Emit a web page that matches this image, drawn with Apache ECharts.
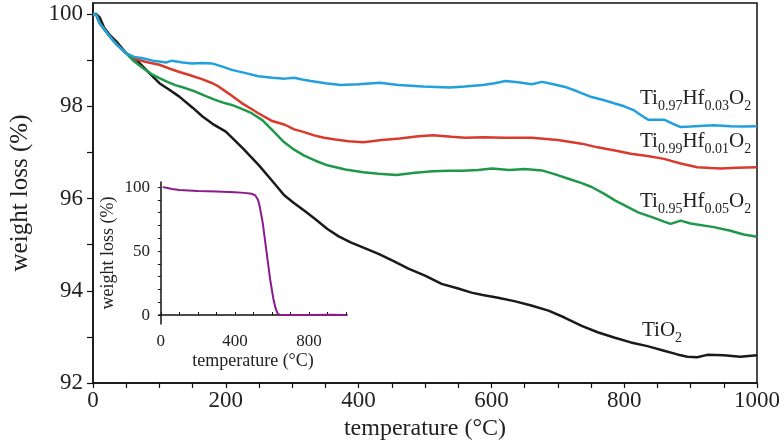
<!DOCTYPE html>
<html>
<head>
<meta charset="utf-8">
<script src="https://cdn.jsdelivr.net/npm/echarts@6/dist/echarts.min.js"></script>
<style>
html, body { margin: 0; padding: 0; background: #fff; }
#main { width: 784px; height: 446px; }
</style>
</head>
<body>
<div id="main"></div>
<script>
// TGA curves, [temperature °C, weight %]
var tio2 = [[0,100],[5,100],[10,99.93],[17,99.7],[25,99.55],[35,99.41],[50,99.15],[65,99.01],[80,98.79],[100,98.5],[115,98.36],[130,98.21],[150,97.97],[165,97.78],[180,97.62],[200,97.45],[225,97.1],[250,96.72],[270,96.38],[288,96.07],[303,95.9],[318,95.74],[335,95.55],[353,95.34],[370,95.18],[388,95.05],[410,94.92],[430,94.8],[452,94.65],[475,94.48],[500,94.33],[525,94.15],[550,94.05],[570,93.96],[587,93.91],[610,93.85],[636,93.77],[660,93.68],[686,93.57],[710,93.42],[736,93.24],[760,93.1],[786,92.98],[810,92.88],[835,92.8],[860,92.7],[880,92.62],[895,92.57],[910,92.56],[925,92.61],[950,92.6],[975,92.57],[1000,92.6]];
var hf003 = [[0,100],[5,99.98],[10,99.8],[18,99.65],[25,99.52],[35,99.35],[50,99.15],[62,99.07],[75,99.04],[90,98.99],[100,98.97],[110,98.95],[119,98.99],[135,98.95],[149,98.93],[165,98.94],[179,98.93],[195,98.86],[209,98.79],[230,98.72],[249,98.65],[270,98.62],[289,98.6],[303,98.62],[315,98.58],[328,98.55],[350,98.5],[373,98.46],[400,98.48],[432,98.51],[460,98.46],[497,98.43],[537,98.41],[560,98.43],[587,98.46],[605,98.5],[621,98.55],[640,98.52],[661,98.48],[676,98.53],[690,98.49],[711,98.42],[730,98.32],[751,98.2],[770,98.13],[786,98.06],[800,98.0],[815,97.91],[826,97.8],[836,97.71],[848,97.71],[860,97.71],[872,97.63],[885,97.55],[900,97.56],[920,97.58],[935,97.59],[960,97.57],[980,97.56],[1000,97.57]];
var hf001 = [[0,100],[5,99.98],[10,99.8],[18,99.65],[25,99.52],[35,99.35],[50,99.15],[65,99.02],[80,98.96],[100,98.9],[115,98.82],[129,98.75],[145,98.68],[164,98.59],[180,98.5],[189,98.43],[205,98.27],[224,98.07],[240,97.93],[249,97.85],[270,97.68],[289,97.6],[303,97.5],[318,97.44],[333,97.37],[348,97.32],[365,97.28],[385,97.24],[407,97.22],[435,97.27],[462,97.3],[490,97.35],[512,97.37],[540,97.34],[561,97.32],[587,97.33],[620,97.32],[661,97.32],[700,97.27],[736,97.19],[760,97.11],[786,97.04],[810,96.97],[835,96.92],[860,96.86],[885,96.76],[910,96.68],[930,96.66],[945,96.65],[970,96.67],[1000,96.68]];
var hf005 = [[0,100],[5,99.98],[10,99.8],[18,99.65],[25,99.52],[35,99.35],[50,99.15],[60,99.0],[75,98.83],[88,98.7],[100,98.61],[112,98.53],[124,98.46],[140,98.39],[154,98.32],[170,98.22],[184,98.14],[196,98.08],[209,98.03],[225,97.94],[239,97.85],[255,97.7],[269,97.5],[288,97.22],[303,97.06],[318,96.93],[335,96.82],[353,96.72],[380,96.63],[407,96.57],[430,96.54],[457,96.51],[485,96.56],[512,96.59],[535,96.6],[557,96.6],[580,96.62],[601,96.65],[627,96.62],[650,96.64],[676,96.61],[695,96.53],[716,96.43],[735,96.34],[751,96.25],[770,96.1],[786,95.96],[805,95.82],[821,95.7],[845,95.58],[860,95.5],[870,95.45],[885,95.52],[900,95.46],[935,95.38],[960,95.3],[980,95.22],[1000,95.17]];
// inset curve
var inset = [[10,100],[30,99.5],[60,98.6],[100,97.8],[200,97],[300,96.5],[400,96],[450,95.5],[490,94.8],[510,93.5],[525,90],[535,84],[550,72],[571,49],[590,28],[607,13],[620,5],[632,0.8],[645,0],[700,0],[800,0],[900,0.2],[1000,0]];

var mainYLabels = [92, 94, 96, 98, 100];
var mainYTicks = [92, 93, 94, 95, 96, 97, 98, 99, 100];
var insetXLabels = [0, 400, 800];
var insetXTicks = [0, 100, 200, 300, 400, 500, 600, 700, 800, 900, 1000];
var insetYLabels = [0, 50, 100];
var insetYTicks = [0, 10, 20, 30, 40, 50, 60, 70, 80, 90, 100];

var FONT = 'Liberation Serif';
var chart = echarts.init(document.getElementById('main'));

function richLabel(a, b) {
	return '{m|Ti}{s|' + a + '}{m|Hf}{s|' + b + '}{m|O}{s|2}';
}
// subscripts pushed down with top padding
var rich = {
	m: { fontFamily: FONT, fontSize: 21, lineHeight: 30, verticalAlign: 'top', fill: '#222' },
	s: { fontFamily: FONT, fontSize: 14, lineHeight: 30, verticalAlign: 'top', padding: [11, 0, 0, 0], fill: '#222' }
};
function plain(v) { return String(v); }

var option = {
	animation: false,
	backgroundColor: '#fff',
	textStyle: { fontFamily: FONT, color: '#222' },
	grid: [
		{ left: 87, right: 27, top: 3, bottom: 63, show: true, borderColor: '#111', borderWidth: 1.5 },
		{ left: 159, width: 188, top: 182, height: 142 }
	],
	xAxis: [{
		gridIndex: 0, type: 'value', min: 0, max: 1000, interval: 200,
		name: 'temperature (°C)', nameLocation: 'middle', nameGap: 31,
		nameTextStyle: { fontFamily: FONT, fontSize: 24, color: '#222' },
		axisLine: { lineStyle: { color: '#111', width: 1.5 } },
		axisTick: { length: 5, lineStyle: { color: '#111', width: 1.2 } },
		minorTick: { show: true, splitNumber: 4, length: 5, lineStyle: { color: '#111', width: 1.2 } },
		axisLabel: { fontFamily: FONT, fontSize: 23, color: '#222', margin: 6, formatter: plain },
		splitLine: { show: false }
	}, {
		gridIndex: 1, type: 'value', min: -10, max: 1005,
		name: 'temperature (°C)', nameLocation: 'middle', nameGap: 28,
		nameTextStyle: { fontFamily: FONT, fontSize: 18, color: '#222' },
		axisLine: { lineStyle: { color: '#111', width: 1.5 } },
		axisTick: { inside: true, length: 3, customValues: insetXTicks, lineStyle: { color: '#111' } },
		axisLabel: { fontFamily: FONT, fontSize: 17, color: '#222', margin: 9, customValues: insetXLabels, formatter: plain },
		splitLine: { show: false }
	}],
	yAxis: [{
		gridIndex: 0, type: 'value', min: 92, max: 100.24,
		name: 'weight loss (%)', nameLocation: 'middle', nameGap: 60,
		nameTextStyle: { fontFamily: FONT, fontSize: 25, color: '#222' },
		axisLine: { lineStyle: { color: '#111', width: 1.5 } },
		axisTick: { length: 6, customValues: mainYTicks, lineStyle: { color: '#111', width: 1.2 } },
		axisLabel: { fontFamily: FONT, fontSize: 23, color: '#222', margin: 10, customValues: mainYLabels },
		splitLine: { show: false }
	}, {
		gridIndex: 1, type: 'value', min: -7, max: 104,
		name: 'weight loss (%)', nameLocation: 'middle', nameGap: 42,
		nameTextStyle: { fontFamily: FONT, fontSize: 18, color: '#222' },
		axisLine: { lineStyle: { color: '#111', width: 1.5 } },
		axisTick: { length: 3, customValues: insetYTicks, lineStyle: { color: '#111' } },
		axisLabel: { fontFamily: FONT, fontSize: 17, color: '#222', margin: 9, customValues: insetYLabels },
		splitLine: { show: false }
	}],
	series: [
		{ name: 'TiO2', type: 'line', data: tio2, showSymbol: false, lineStyle: { color: '#1a1a1a', width: 2.5 } },
		{ name: 'Ti0.99Hf0.01O2', type: 'line', data: hf001, showSymbol: false, lineStyle: { color: '#da3a2c', width: 2.5 } },
		{ name: 'Ti0.95Hf0.05O2', type: 'line', data: hf005, showSymbol: false, lineStyle: { color: '#1f984a', width: 2.5 } },
		{ name: 'Ti0.97Hf0.03O2', type: 'line', data: hf003, showSymbol: false, lineStyle: { color: '#229fdd', width: 2.5 } },
		{ name: 'inset', type: 'line', xAxisIndex: 1, yAxisIndex: 1, data: inset, showSymbol: false, lineStyle: { color: '#8b1a8d', width: 2 } }
	],
	graphic: [
		{ type: 'text', left: 640, top: 88, style: { text: richLabel('0.97', '0.03'), rich: rich } },
		{ type: 'text', left: 640, top: 131, style: { text: richLabel('0.99', '0.01'), rich: rich } },
		{ type: 'text', left: 640, top: 191, style: { text: richLabel('0.95', '0.05'), rich: rich } },
		{ type: 'text', left: 642, top: 320, style: { text: '{m|TiO}{s|2}', rich: rich } }
	]
};
chart.setOption(option);
</script>
</body>
</html>
